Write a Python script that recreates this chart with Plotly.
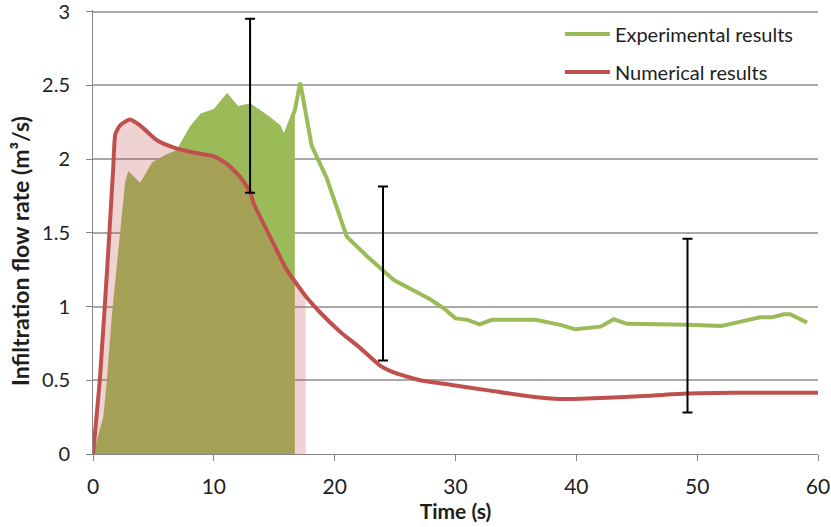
import plotly.graph_objects as go

# ---------------- data ----------------
exp_time = [0, 0.44, 0.85, 1.13, 1.55, 2.1, 2.65, 2.92, 3.9, 4.9, 6.0, 6.9, 8.0, 8.9,
            10.0, 11.1, 12.0, 13.0, 14.6, 15.5, 15.9, 16.7, 17.15, 18.1, 19.35, 21.0,
            22.7, 24.9, 27.9, 29.0, 30.0, 31.0, 32.0, 33.0, 36.6, 38.7, 39.9, 42.0,
            43.1, 44.2, 49.2, 52.0, 53.6, 55.2, 56.2, 57.2, 57.7, 59.1]
exp_rate = [0, 0.14, 0.25, 0.48, 0.93, 1.385, 1.84, 1.92, 1.84, 1.98, 2.03, 2.06, 2.22, 2.31,
            2.34, 2.45, 2.36, 2.38, 2.29, 2.23, 2.16, 2.33, 2.52, 2.09, 1.87, 1.475,
            1.34, 1.18, 1.05, 0.99, 0.92, 0.91, 0.88, 0.91, 0.91, 0.876, 0.846, 0.864,
            0.914, 0.883, 0.876, 0.869, 0.898, 0.928, 0.928, 0.948, 0.948, 0.891]

num_time = [0, 0.58, 1.27, 1.68, 1.85, 2.24, 3.06, 3.89, 5.27, 6.65, 8.03, 9.96, 11.07,
            12.17, 13.0, 13.3, 14.65, 16.03, 16.8, 17.6, 18.8, 20.45, 22.1, 23.76, 25.0,
            27.07, 29.55, 32.86, 36.2, 38.66, 42.0, 46.0, 49.15, 53.0, 56.0, 60.0]
num_rate = [0, 0.52, 1.385, 1.95, 2.17, 2.23, 2.27, 2.23, 2.13, 2.08, 2.05, 2.02, 1.97,
            1.88, 1.78, 1.70, 1.475, 1.25, 1.16, 1.07, 0.96, 0.83, 0.72, 0.60, 0.55,
            0.50, 0.47, 0.43, 0.39, 0.373, 0.38, 0.395, 0.41, 0.415, 0.416, 0.416]

err_time = [13.0, 24.0, 49.2]
err_center = [2.362, 1.224, 0.871]
err_half = [0.59, 0.59, 0.59]

exp_area_end = 16.7     # experimental shaded part ends here
exp_line_start = 15.9   # experimental line drawn from here
num_area_end = 17.6     # numerical shaded part ends here

x_ticks = [0, 10, 20, 30, 40, 50, 60]
y_ticks = [0, 0.5, 1, 1.5, 2, 2.5, 3]
y_tick_text = ["0", "0.5", "1", "1.5", "2", "2.5", "3"]

GREEN = "#9BBB59"
RED = "#C0504D"
FONT = "Lato"
TXT = "#1e1e1e"

ea_x = [t for t in exp_time if t <= exp_area_end]
ea_y = [r for t, r in zip(exp_time, exp_rate) if t <= exp_area_end]
el_x = [t for t in exp_time if t >= exp_line_start]
el_y = [r for t, r in zip(exp_time, exp_rate) if t >= exp_line_start]
na_x = [t for t in num_time if t <= num_area_end]
na_y = [r for t, r in zip(num_time, num_rate) if t <= num_area_end]

fig = go.Figure()

fig.add_trace(go.Scatter(x=ea_x, y=ea_y, mode="lines", line=dict(width=0, color=GREEN),
                         fill="tozeroy", fillcolor=GREEN, showlegend=False, hoverinfo="skip"))
fig.add_trace(go.Scatter(x=na_x, y=na_y, mode="lines", line=dict(width=0, color=RED),
                         fill="tozeroy", fillcolor="rgba(192,80,77,0.25)", showlegend=False,
                         hoverinfo="skip"))
fig.add_trace(go.Scatter(x=el_x, y=el_y, mode="lines", name="Experimental results",
                         line=dict(color=GREEN, width=4), legendgroup="a"))
fig.add_trace(go.Scatter(x=num_time, y=num_rate, mode="lines", name="Numerical results",
                         line=dict(color=RED, width=4, shape="spline", smoothing=0.5),
                         legendgroup="b"))
fig.add_trace(go.Scatter(x=err_time, y=err_center, mode="markers",
                         marker=dict(size=1, color="rgba(0,0,0,0)"),
                         error_y=dict(type="data", array=err_half, symmetric=True,
                                      color="black", thickness=2, width=5),
                         showlegend=False, hoverinfo="skip"))

fig.update_layout(
    width=831, height=527,
    margin=dict(l=93, r=13, t=10, b=73, autoexpand=False),
    paper_bgcolor="white", plot_bgcolor="white",
    font=dict(family=FONT, size=21, color=TXT),
    legend=dict(x=0.644, y=0.99, xanchor="left", yanchor="top", itemwidth=45,
                font=dict(family=FONT, size=20, color=TXT),
                traceorder="grouped", tracegroupgap=9, bgcolor="rgba(0,0,0,0)"),
    xaxis=dict(range=[0, 60], tickvals=x_ticks, ticks="outside", ticklen=6,
               tickcolor="#868686", showline=True, linecolor="#868686", linewidth=1,
               showgrid=False, zeroline=False, ticklabelstandoff=8,
               ticklabeloverflow="allow", automargin=False,
               title=dict(text="<b>Time (s)</b>", font=dict(size=21, family=FONT, color=TXT),
                          standoff=6)),
    yaxis=dict(range=[0, 3.012], tickvals=y_ticks, ticktext=y_tick_text, ticks="outside",
               ticklen=6, tickcolor="#868686", showline=True, linecolor="#868686",
               linewidth=1, showgrid=True, gridcolor="#A9A9A9", gridwidth=1.5,
               zeroline=False, ticklabelstandoff=12, ticklabeloverflow="allow",
               automargin=False, tickfont=dict(size=20)),
    annotations=[dict(text="<b>Infiltration flow rate (m³/s)</b>", textangle=-90,
                      xref="paper", yref="paper", x=(20 - 93) / 725, y=(454 - 251) / 444,
                      xanchor="center", yanchor="middle", showarrow=False,
                      font=dict(size=23, family=FONT, color=TXT))],
)

fig.write_html("out.html")
